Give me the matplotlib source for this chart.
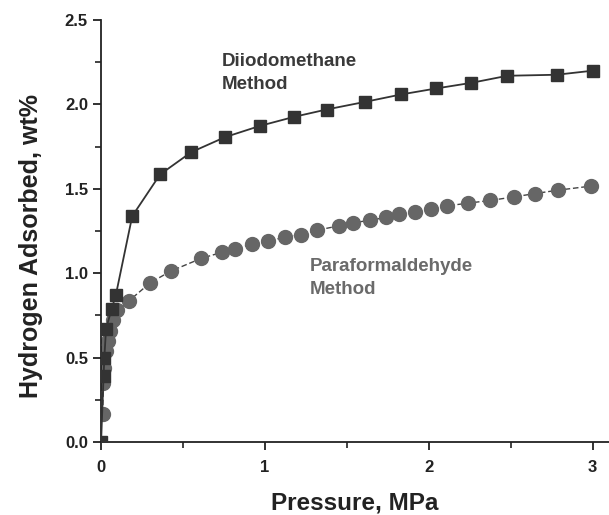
import matplotlib
matplotlib.use("Agg")
import matplotlib.pyplot as plt
from matplotlib.ticker import MultipleLocator

plt.rcParams['font.family'] = ['Liberation Sans', 'DejaVu Sans']
plt.rcParams['font.weight'] = 'bold'

# Diiodomethane method (squares)
p_diiodo = [0.0, 0.015, 0.02, 0.03, 0.065, 0.09, 0.19, 0.36, 0.55, 0.756,
            0.97, 1.18, 1.376, 1.61, 1.83, 2.047, 2.26, 2.48, 2.78, 3.0]
h_diiodo = [0.0, 0.39, 0.50, 0.67, 0.79, 0.87, 1.338, 1.585, 1.717, 1.806,
            1.873, 1.927, 1.97, 2.015, 2.059, 2.095, 2.128, 2.17, 2.176, 2.20]

# Paraformaldehyde method (circles)
p_para = [0.01, 0.014, 0.02, 0.03, 0.04, 0.055, 0.07, 0.10, 0.17, 0.30, 0.425,
          0.61, 0.735, 0.82, 0.92, 1.02, 1.12, 1.22, 1.32, 1.45, 1.54, 1.64,
          1.74, 1.82, 1.915, 2.016, 2.114, 2.24, 2.376, 2.52, 2.65, 2.79, 2.99]
h_para = [0.168, 0.346, 0.435, 0.54, 0.60, 0.66, 0.72, 0.78, 0.836, 0.943, 1.012,
          1.087, 1.123, 1.146, 1.17, 1.19, 1.213, 1.229, 1.255, 1.28, 1.298, 1.314,
          1.33, 1.35, 1.363, 1.381, 1.399, 1.415, 1.431, 1.452, 1.472, 1.492, 1.516]

fig = plt.figure(figsize=(6.09, 5.15), dpi=100)
ax = fig.add_axes([0.166, 0.142, 0.834, 0.819])

ax.plot(p_para, h_para, linestyle=(0, (4, 2)), color='#444444', linewidth=1.0,
        marker='o', markersize=10, markerfacecolor='#666666',
        markeredgecolor='#666666', zorder=2)
ax.plot(p_diiodo, h_diiodo, linestyle='-', color='#333333', linewidth=1.3,
        marker='s', markersize=9, markerfacecolor='#333333',
        markeredgecolor='#333333', zorder=3)

ax.set_xlim(0, 3.1)
ax.set_ylim(0, 2.5)
ax.xaxis.set_major_locator(MultipleLocator(1))
ax.xaxis.set_minor_locator(MultipleLocator(0.5))
ax.yaxis.set_minor_locator(MultipleLocator(0.25))
ax.set_yticks([0, 0.5, 1.0, 1.5, 2.0, 2.5])
ax.set_yticklabels(['0.0', '0.5', '1.0', '1.5', '2.0', '2.5'])

for side in ['top', 'right']:
    ax.spines[side].set_visible(False)
for side in ['left', 'bottom']:
    ax.spines[side].set_linewidth(1.3)
    ax.spines[side].set_color('#222222')

ax.tick_params(which='major', direction='out', length=6, width=1.3,
               labelsize=12, colors='#222222')
ax.tick_params(axis='x', which='major', pad=7)
ax.tick_params(which='minor', direction='out', length=4, width=1.2,
               colors='#222222')

ax.set_xlabel('Pressure, MPa', fontsize=17.5, fontweight='bold', color='#222222')
ax.set_ylabel('Hydrogen Adsorbed, wt%', fontsize=18, fontweight='bold',
              color='#222222')
ax.xaxis.label.set_va('center')
ax.yaxis.label.set_va('center')
ax.xaxis.set_label_coords(0.5, -0.145)
ax.yaxis.set_label_coords(-0.138, 0.464)

ax.text(0.738, 2.185, 'Diiodomethane\nMethod', fontsize=13.5, fontweight='bold',
        color='#3a3a3a', ha='left', va='center', linespacing=1.45)
ax.text(1.274, 0.97, 'Paraformaldehyde\nMethod', fontsize=13.5, fontweight='bold',
        color='#6a6a6a', ha='left', va='center', linespacing=1.45)

fig.savefig('out.png', dpi=100)
